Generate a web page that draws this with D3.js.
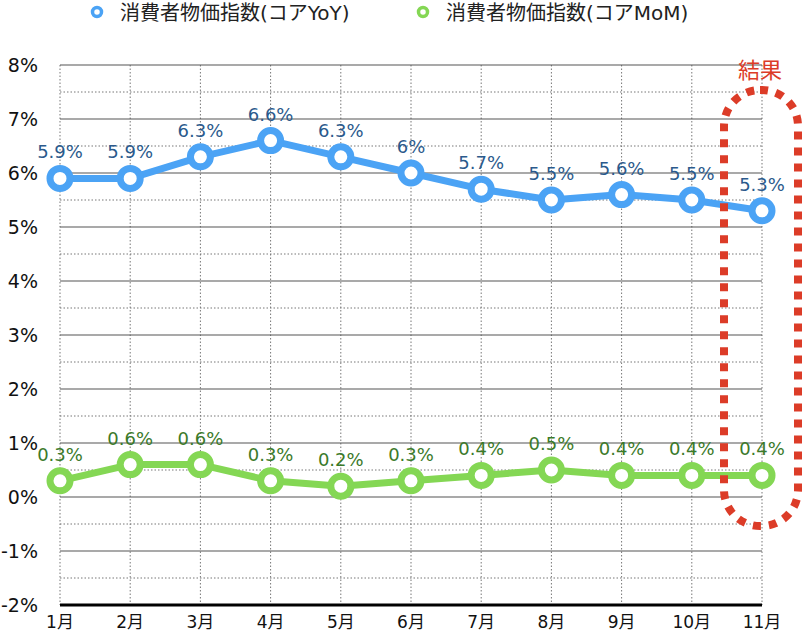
<!DOCTYPE html>
<html>
<head>
<meta charset="utf-8">
<script src="https://cdn.jsdelivr.net/npm/d3@7"></script>
<style>
  body { margin: 0; background: #fff; }
  svg { display: block; font-family: "DejaVu Sans", "Noto Sans CJK JP", sans-serif; }
</style>
</head>
<body>
<svg id="chart" width="804" height="632"></svg>
<script>
// Data
const months = ['1月', '2月', '3月', '4月', '5月', '6月', '7月', '8月', '9月', '10月', '11月'];
const coreYoY = [5.9, 5.9, 6.3, 6.6, 6.3, 6.0, 5.7, 5.5, 5.6, 5.5, 5.3];
const coreMoM = [0.3, 0.6, 0.6, 0.3, 0.2, 0.3, 0.4, 0.5, 0.4, 0.4, 0.4];
const yTicks = [-2, -1, 0, 1, 2, 3, 4, 5, 6, 7, 8];
const yLabels = yTicks.map(v => v + '%');
const seriesNames = ['消費者物価指数(コアYoY)', '消費者物価指数(コアMoM)'];

const svg = d3.select('#chart');

const x = d3.scalePoint().domain(months).range([60, 762]);
const y = d3.scaleLinear().domain([-2, 8]).range([605, 65]);

// Grid: half steps dotted, whole steps solid
const halfTicks = d3.range(-1.5, 8, 1);
svg.append('g')
  .selectAll('line')
  .data(halfTicks)
  .enter()
  .append('line')
  .attr('x1', 60).attr('x2', 762)
  .attr('y1', d => y(d)).attr('y2', d => y(d))
  .attr('stroke', '#777')
  .attr('stroke-width', 1)
  .attr('stroke-dasharray', '1.5,2');

svg.append('g')
  .selectAll('line')
  .data(months)
  .enter()
  .append('line')
  .attr('x1', d => x(d)).attr('x2', d => x(d))
  .attr('y1', y(8)).attr('y2', y(-2))
  .attr('stroke', '#777')
  .attr('stroke-width', 1)
  .attr('stroke-dasharray', '1.5,2');

svg.append('g')
  .selectAll('line')
  .data(yTicks.filter(d => d > -2))
  .enter()
  .append('line')
  .attr('x1', 60).attr('x2', 762)
  .attr('y1', d => y(d)).attr('y2', d => y(d))
  .attr('stroke', '#555')
  .attr('stroke-width', 1.2);

// Bottom axis line
svg.append('line')
  .attr('x1', 60).attr('x2', 762)
  .attr('y1', y(-2)).attr('y2', y(-2))
  .attr('stroke', '#000')
  .attr('stroke-width', 3);

// Y labels
svg.append('g')
  .selectAll('text')
  .data(yTicks)
  .enter()
  .append('text')
  .attr('x', 38)
  .attr('y', d => y(d) + 7)
  .attr('text-anchor', 'end')
  .attr('font-size', 19)
  .attr('fill', '#111')
  .text((d, i) => yLabels[i]);

// X labels
svg.append('g')
  .selectAll('text')
  .data(months)
  .enter()
  .append('text')
  .attr('x', d => x(d))
  .attr('y', 628)
  .attr('text-anchor', 'middle')
  .attr('font-size', 17)
  .attr('fill', '#111')
  .text(d => d);

// Series
const series = [
  { name: seriesNames[0], values: coreYoY, color: '#4ba3f5', labelColor: '#2b5a8c' },
  { name: seriesNames[1], values: coreMoM, color: '#84d754', labelColor: '#3b7a2a' }
];

const line = d3.line()
  .x((d, i) => x(months[i]))
  .y(d => y(d));

series.forEach(s => {
  svg.append('path')
    .datum(s.values)
    .attr('d', line)
    .attr('fill', 'none')
    .attr('stroke', s.color)
    .attr('stroke-width', 7)
    .attr('stroke-linejoin', 'round');

  svg.append('g')
    .selectAll('circle')
    .data(s.values)
    .enter()
    .append('circle')
    .attr('cx', (d, i) => x(months[i]))
    .attr('cy', d => y(d))
    .attr('r', 10)
    .attr('fill', '#fff')
    .attr('stroke', s.color)
    .attr('stroke-width', 7);

  svg.append('g')
    .selectAll('text')
    .data(s.values)
    .enter()
    .append('text')
    .attr('x', (d, i) => x(months[i]))
    .attr('y', d => y(d) - 20)
    .attr('text-anchor', 'middle')
    .attr('font-size', 18)
    .attr('fill', s.labelColor)
    .text(d => d + '%');
});

// Legend
const legendX = [97, 423];
series.forEach((s, i) => {
  const g = svg.append('g').attr('transform', `translate(${legendX[i]},12)`);
  g.append('circle')
    .attr('r', 4.5)
    .attr('fill', '#fff')
    .attr('stroke', s.color)
    .attr('stroke-width', 3.5);
  g.append('text')
    .attr('x', 23)
    .attr('y', 8)
    .attr('font-size', 20)
    .attr('fill', '#222')
    .text(s.name);
});

// Highlight of the latest result
svg.append('rect')
  .attr('x', 724).attr('y', 90)
  .attr('width', 74).attr('height', 436)
  .attr('rx', 36).attr('ry', 36)
  .attr('fill', 'none')
  .attr('stroke', '#dc3c28')
  .attr('stroke-width', 8)
  .attr('stroke-dasharray', '8,8');

svg.append('text')
  .attr('x', 760)
  .attr('y', 78)
  .attr('text-anchor', 'middle')
  .attr('font-size', 22)
  .attr('fill', '#dc3c28')
  .text('結果');
</script>
</body>
</html>
